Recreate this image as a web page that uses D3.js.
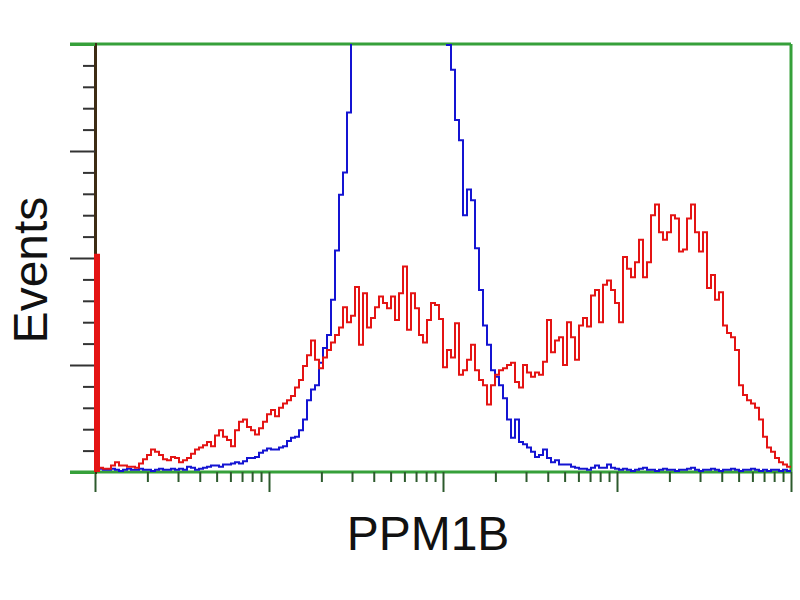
<!DOCTYPE html>
<html><head><meta charset="utf-8">
<script src="https://cdn.jsdelivr.net/npm/d3@7"></script>
<style>html,body{margin:0;padding:0;background:#fff;}svg{display:block;}</style>
</head><body>
<svg id="chart" width="800" height="600"></svg>
<script>
// Histogram counts per channel bin (174 log-spaced bins over 4 decades)
const redCounts = [203,4,3,3,6,9,6,6,5,5,4,8,12,16,21,19,16,12,11,14,
13,9,11,13,17,21,23,25,28,24,34,39,33,30,24,39,47,49,42,39,
35,41,47,54,58,52,60,64,67,71,79,86,99,109,123,105,97,107,114,121,
128,135,154,140,146,173,119,167,135,144,154,164,158,153,164,142,167,192,133,167,
153,128,121,142,158,156,143,98,114,107,139,91,95,105,119,95,86,81,63,81,
91,95,97,100,102,84,79,100,93,89,93,91,103,142,112,123,126,100,140,126,
105,137,144,136,165,170,140,175,179,170,158,140,201,190,182,196,217,182,196,240,
250,224,217,224,240,237,206,208,237,250,224,206,224,172,184,161,168,137,130,126,
114,81,72,67,64,60,49,33,23,19,13,9,7,5];
const blueCounts = [2,3,2,2,3,2,1,2,3,2,2,3,2,2,1,2,3,2,2,3,
2,3,2,5,4,2,3,4,5,6,6,5,7,7,8,9,8,10,13,13,
14,18,20,22,21,21,23,24,29,32,33,39,49,67,77,81,102,116,128,161,
207,259,280,336,430,480,520,550,575,590,600,610,620,615,625,630,620,612,600,590,
585,570,560,540,520,500,470,440,399,376,329,310,240,264,254,209,170,137,119,95,
89,81,69,49,32,49,28,26,23,19,14,16,21,13,9,11,7,7,7,5,
4,3,3,2,4,6,4,4,7,4,3,2,3,2,1,2,3,4,2,2,
1,2,3,2,2,1,2,2,3,4,2,1,2,2,3,2,1,2,2,3,
2,1,2,2,3,2,1,2,1,2,2,1,2,1];
const xDecades = [1, 10, 100, 1000, 10000];
const yMajorTicks = [0, 100, 200, 300, 400];
const xLabel = "PPM1B";
const yLabel = "Events";

const svg = d3.select("#chart");
const L = 95, R = 791, T = 44, B = 472;
const N = redCounts.length;
const x = d3.scaleLog().domain([1, 10000]).range([L, R]);
const y = d3.scaleLinear().domain([0, 400]).range([B, T]);
const binEdge = i => Math.pow(10, 4 * i / N);

svg.append("defs").append("clipPath").attr("id", "plotclip")
  .append("rect").attr("x", L - 4).attr("y", T).attr("width", R - L + 4).attr("height", B - T + 2);

const green = "#36a03a";
// frame
svg.append("line").attr("x1", 70).attr("x2", R).attr("y1", T).attr("y2", T)
  .attr("stroke", green).attr("stroke-width", 3);
svg.append("line").attr("x1", 70).attr("x2", R).attr("y1", B).attr("y2", B)
  .attr("stroke", green).attr("stroke-width", 3);
svg.append("line").attr("x1", R).attr("x2", R).attr("y1", T).attr("y2", B)
  .attr("stroke", green).attr("stroke-width", 3);

// x axis ticks (log)
const minorX = [];
for (let d = 0; d < 4; d++) for (let m = 2; m <= 9; m++) minorX.push(m * xDecades[d]);
const gxMinor = svg.append("g").attr("transform", `translate(0,${B})`)
  .call(d3.axisBottom(x).tickValues(minorX).tickSize(10).tickFormat(""));
const gxMajor = svg.append("g").attr("transform", `translate(0,${B})`)
  .call(d3.axisBottom(x).tickValues(xDecades).tickSize(20).tickFormat(""));
[gxMinor, gxMajor].forEach(g => {
  g.select(".domain").remove();
  g.selectAll(".tick line").attr("stroke", "#2d5a2d").attr("stroke-width", 2);
});

// y axis ticks
const minorY = d3.range(0, 401, 20).filter(v => v % 100 !== 0);
const gyMinor = svg.append("g").attr("transform", `translate(${L},0)`)
  .call(d3.axisLeft(y).tickValues(minorY).tickSize(12).tickFormat(""));
const gyMajor = svg.append("g").attr("transform", `translate(${L},0)`)
  .call(d3.axisLeft(y).tickValues(yMajorTicks).tickSize(25).tickFormat(""));
gyMinor.select(".domain").remove();
gyMajor.select(".domain").attr("stroke", "#3d2c14").attr("stroke-width", 3);
gyMinor.selectAll(".tick line").attr("stroke", "#333").attr("stroke-width", 2);
gyMajor.selectAll(".tick line").attr("stroke", "#333").attr("stroke-width", 2);
gyMajor.selectAll(".tick").filter(d => d === 0 || d === 400).select("line").attr("stroke", green).attr("stroke-width", 3);

// histograms
function pts(counts) {
  const p = [[binEdge(0), 0]];
  counts.forEach((c, i) => p.push([binEdge(i), c]));
  p.push([binEdge(N), counts[N - 1]]);
  return p;
}
const line = d3.line().x(d => x(d[0])).y(d => y(d[1])).curve(d3.curveStepAfter);
const plot = svg.append("g").attr("clip-path", "url(#plotclip)");
plot.append("path").datum(pts(blueCounts)).attr("d", line)
  .attr("fill", "none").attr("stroke", "#1414d2").attr("stroke-width", 2);
// first-channel spike as a solid bar
plot.append("rect").datum(redCounts[0])
  .attr("x", x(binEdge(0)) - 1).attr("width", x(binEdge(1)) - x(binEdge(0)) + 2)
  .attr("y", d => y(d)).attr("height", d => B - y(d)).attr("fill", "#e41414");
plot.append("path").datum(pts(redCounts)).attr("d", line)
  .attr("fill", "none").attr("stroke", "#e41414").attr("stroke-width", 2);

// labels
svg.append("text").attr("x", 428).attr("y", 550).attr("text-anchor", "middle")
  .attr("font-family", "Liberation Sans, Arial, sans-serif").attr("font-size", 48)
  .attr("fill", "#111").text(xLabel);
svg.append("text").attr("transform", "translate(47,270) rotate(-90)")
  .attr("text-anchor", "middle")
  .attr("font-family", "Liberation Sans, Arial, sans-serif").attr("font-size", 48)
  .attr("fill", "#111").text(yLabel);
</script>
</body></html>
